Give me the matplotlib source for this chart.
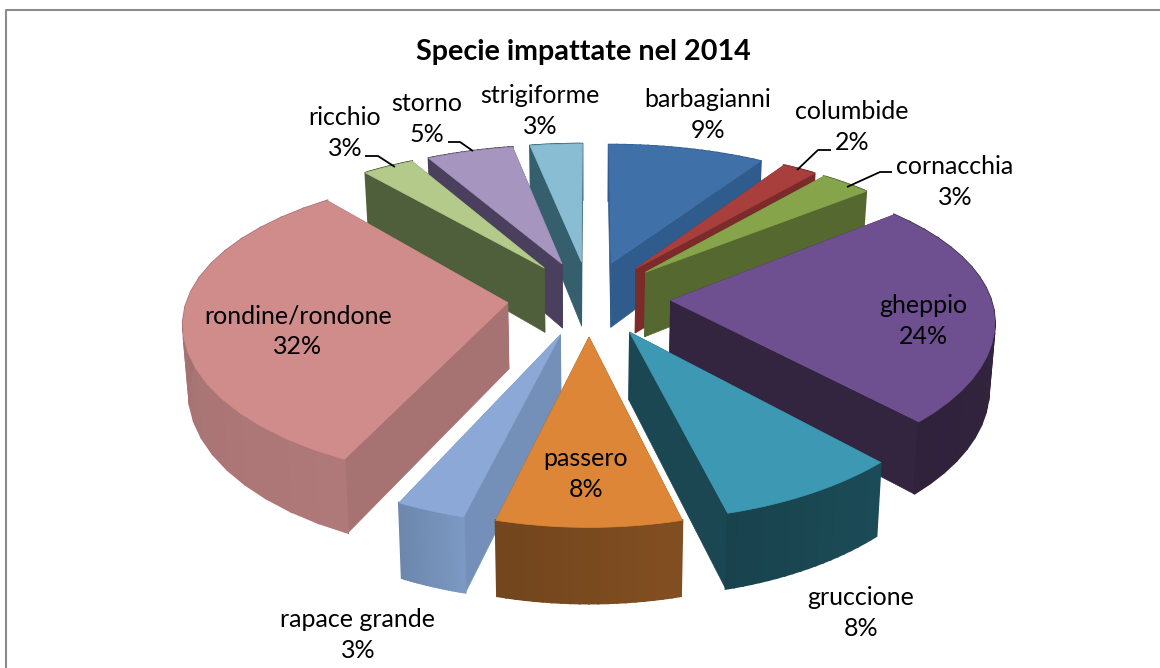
import numpy as np
import matplotlib
matplotlib.use('Agg')
import matplotlib.pyplot as plt

species = ['barbagianni', 'columbide', 'cornacchia', 'gheppio', 'gruccione', 'passero',
           'rapace grande', 'rondine/rondone', 'ricchio', 'storno', 'strigiforme']
percent = [9, 2, 3, 24, 8, 8, 3, 32, 3, 5, 3]

top_colors = ['#3f70a8', '#a83f3d', '#86a54b', '#6e5090', '#3d98b4', '#de8638',
              '#8ba8d6', '#cf8c8b', '#b3ca8b', '#a695bf', '#88bdd3']
side_colors = ['#2f5b8d', '#7c2b2b', '#55682f', '#33243f', '#1a4752', '#7a4a1f',
               '#7490b8', '#a67272', '#4f5f3b', '#4a3f5c', '#355f6d']

# posizione delle etichette (centro del testo, in pixel)
label_x = [708, 852, 955, 923, 861, 586, 358, 298, 345, 427, 540]
label_y = [115, 127, 182, 321, 613, 474, 635, 331, 133, 119, 111]

plt.rcParams['font.family'] = ['Lato', 'DejaVu Sans']

# parametri della vista 3D
cx, cy = 589, 298
A, B = 320, 147
ky, kx = 0.156, 0.12
expl = 0.255


def proj(x, y, z=0.0):
    sx = cx + A * x / (1 + kx * y) * (1 - 0.015 * z)
    sy = cy - B * y / (1 + ky * y) + z * (66 - 8 * y)
    return sx, sy


def shade(color, f):
    rgb = np.array(matplotlib.colors.to_rgb(color))
    return tuple(np.clip(rgb * f, 0, 1))


fig = plt.figure(figsize=(11.6, 6.68), dpi=100)
ax = fig.add_axes([0, 0, 1, 1])
ax.set_xlim(0, 1160)
ax.set_ylim(668, 0)
ax.axis('off')

# cornice (solo sinistra e sopra, il resto è tagliato)
ax.plot([6, 6, 1160], [668, 10, 10], color='#8c8c8c', lw=1.5)

edges = np.cumsum([0] + percent) / sum(percent) * 2 * np.pi
mids = (edges[:-1] + edges[1:]) / 2


def draw_sides(i, ex, ey):
    # fianchi radiali
    for a in (edges[i], edges[i + 1]):
        xs = [ex, ex + np.sin(a), ex + np.sin(a), ex]
        ys = [ey, ey + np.cos(a), ey + np.cos(a), ey]
        zs = [0, 0, 1, 1]
        sx, sy = proj(np.array(xs), np.array(ys), np.array(zs))
        ax.fill(sx, sy, color=side_colors[i], lw=0.5)


def draw_rim(i, arc_x, arc_y):
    # bordo esterno, leggermente sfumato
    tx, ty = proj(arc_x, arc_y, 0.0)
    bx, by = proj(arc_x, arc_y, 1.0)
    n = len(arc_x) - 1
    for j in range(n):
        c = shade(side_colors[i], 1.06 - 0.12 * j / (n - 1))
        ax.fill([tx[j], tx[j + 1], bx[j + 1], bx[j]], [ty[j], ty[j + 1], by[j + 1], by[j]],
                color=c, lw=1.5)


# prima le fette lontane
order = np.argsort(-np.cos(mids))
for i in order:
    ex, ey = expl * np.sin(mids[i]), expl * np.cos(mids[i])
    th = np.linspace(edges[i], edges[i + 1], 21)
    arc_x = ex + np.sin(th)
    arc_y = ey + np.cos(th)

    if np.cos(mids[i]) > 0:
        draw_rim(i, arc_x, arc_y)
        draw_sides(i, ex, ey)
    else:
        draw_sides(i, ex, ey)
        draw_rim(i, arc_x, arc_y)

    # faccia superiore
    sx, sy = proj(np.r_[ex, arc_x], np.r_[ey, arc_y], 0.0)
    ax.fill(sx, sy, color=top_colors[i], lw=0.5)

# linee guida
leaders = {1: ([797, 818, 831], [170, 150, 150]),
           2: ([847, 880, 892], [187, 172, 172]),
           8: ([395, 378, 365], [167, 156, 156]),
           9: ([473, 460, 448], [151, 142, 142])}
for i, (lx, ly) in leaders.items():
    ax.plot(lx, ly, color='black', lw=1.3, solid_capstyle='butt')

for i, name in enumerate(species):
    ax.text(label_x[i], label_y[i], f'{name}\n{percent[i]}%', ha='center', va='center',
            fontsize=18, color='black', linespacing=1.42)

ax.text(583, 52, 'Specie impattate nel 2014', ha='center', va='center',
        fontsize=20.7, fontweight='bold', color='black')

fig.savefig('out.png', dpi=100)
